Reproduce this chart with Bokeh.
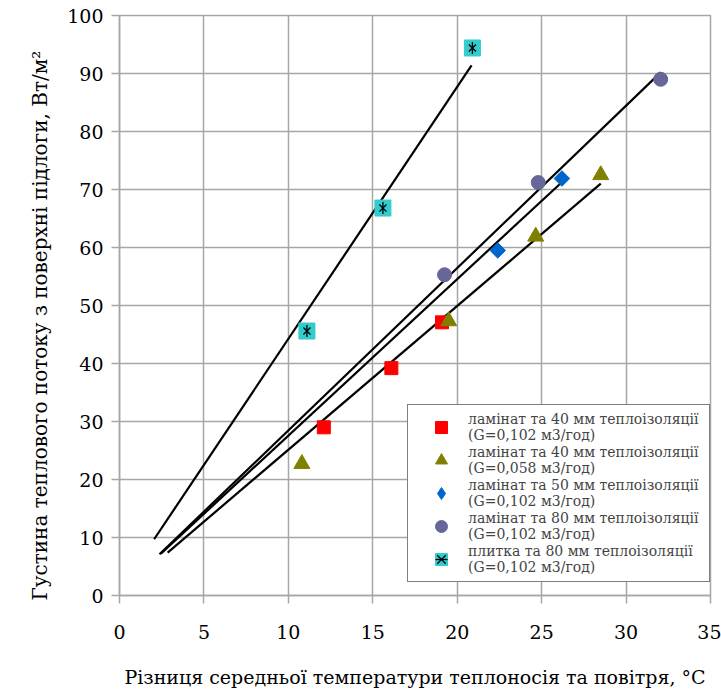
import math
from bokeh.plotting import figure
from bokeh.models import Legend, LegendItem, FixedTicker, Range1d, Title
from bokeh.embed import file_html
from bokeh.resources import INLINE

# ---- data ----
x_ticks = [0, 5, 10, 15, 20, 25, 30, 35]
y_ticks = [0, 10, 20, 30, 40, 50, 60, 70, 80, 90, 100]

lam40_x = [12.1, 16.1, 19.1]
lam40_y = [29.0, 39.2, 47.1]
lam40b_x = [10.8, 19.5, 24.65, 28.5]
lam40b_y = [22.7, 47.3, 61.9, 72.5]
lam50_x = [22.4, 26.2]
lam50_y = [59.5, 71.9]
lam80_x = [19.25, 24.8, 32.05]
lam80_y = [55.3, 71.2, 89.0]
tile_x = [11.1, 15.6, 20.9]
tile_y = [45.6, 66.8, 94.4]

trend_lam40b_x = [2.85, 28.5]
trend_lam40b_y = [7.4, 71.0]
trend_lam50_x = [2.45, 26.1]
trend_lam50_y = [7.2, 71.0]
trend_lam80_x = [2.37, 32.05]
trend_lam80_y = [7.1, 90.2]
trend_tile_x = [2.05, 20.85]
trend_tile_y = [9.7, 91.4]

labels = [
    "ламінат та 40 мм теплоізоляції\n(G=0,102 м3/год)",
    "ламінат та 40 мм теплоізоляції\n(G=0,058 м3/год)",
    "ламінат та 50 мм теплоізоляції\n(G=0,102 м3/год)",
    "ламінат та 80 мм теплоізоляції\n(G=0,102 м3/год)",
    "плитка та 80 мм теплоізоляції\n(G=0,102 м3/год)",
]
x_title = "Різниця середньої температури теплоносія та повітря, °C"
y_title = "Густина теплового потоку з поверхні підлоги, Вт/м²"

FONT = "DejaVu Serif"
GRID = "#a6a6a6"

p = figure(width=721, height=695, output_backend="svg", toolbar_location=None,
           x_range=Range1d(0, 35), y_range=Range1d(0, 100),
           min_border_left=119, min_border_right=11, min_border_top=15, min_border_bottom=100)
p.outline_line_color = GRID
p.outline_line_width = 1.5
p.background_fill_color = "white"

for ax in (p.xaxis[0], p.yaxis[0]):
    ax.axis_line_color = GRID
    ax.axis_line_width = 1.5
    ax.major_tick_line_color = GRID
    ax.major_tick_line_width = 1.5
    ax.major_tick_in = 0
    ax.major_tick_out = 8
    ax.minor_tick_line_color = None
    ax.major_label_text_font = FONT
    ax.major_label_text_font_size = "19px"
    ax.major_label_text_color = "black"
    ax.axis_label_text_font = FONT
    ax.axis_label_text_font_size = "19px"
    ax.axis_label_text_font_style = "normal"
    ax.axis_label_text_color = "black"

p.xaxis.ticker = FixedTicker(ticks=x_ticks)
p.yaxis.ticker = FixedTicker(ticks=y_ticks)
p.xaxis.axis_label = x_title
p.xaxis.major_label_standoff = 21
p.xaxis.axis_label_standoff = 24
p.yaxis.major_label_standoff = 8

ytitle = Title(text=y_title, align="left", offset=-5, standoff=26,
               text_font=FONT, text_font_size="20px", text_font_style="normal",
               text_color="black")
p.add_layout(ytitle, "left")

for g in (p.xgrid[0], p.ygrid[0]):
    g.grid_line_color = GRID
    g.grid_line_width = 1.5
p.xgrid.ticker = FixedTicker(ticks=x_ticks)
p.ygrid.ticker = FixedTicker(ticks=y_ticks)

for tx, ty in ((trend_lam40b_x, trend_lam40b_y), (trend_lam50_x, trend_lam50_y),
               (trend_lam80_x, trend_lam80_y), (trend_tile_x, trend_tile_y)):
    p.line(tx, ty, line_color="black", line_width=2.2)

r1 = p.scatter(lam40_x, lam40_y, marker="square", size=13, fill_color="#ff0000", line_color="#ff0000")
r2 = p.scatter(lam40b_x, lam40b_y, marker="triangle", size=16, fill_color="#808000", line_color="#808000")
p.scatter(lam50_x, lam50_y, marker="square", size=11, angle=math.pi / 4,
          fill_color="#0066cc", line_color="#0066cc")
# legend proxy for the diamond series (legend glyphs are never rotated)
r3 = p.scatter([float("nan")], [float("nan")], marker="diamond", size=12,
               fill_color="#0066cc", line_color="#0066cc")
r4 = p.scatter(lam80_x, lam80_y, marker="circle", size=14, fill_color="#666699", line_color="#666699")
r5a = p.scatter(tile_x, tile_y, marker="square", size=16, fill_color="#33cccc", line_color="#33cccc")
r5b = p.scatter(tile_x, tile_y, marker="x", size=10, line_color="black", line_width=1.3)
r5c = p.scatter(tile_x, tile_y, marker="dash", size=12, angle=math.pi / 2, line_color="black", line_width=1.3)

legend = Legend(items=[
    LegendItem(label=labels[0], renderers=[r1]),
    LegendItem(label=labels[1], renderers=[r2]),
    LegendItem(label=labels[2], renderers=[r3]),
    LegendItem(label=labels[3], renderers=[r4]),
    LegendItem(label=labels[4], renderers=[r5a, r5b, r5c]),
], location=(288, 13))
legend.border_line_color = "black"
legend.border_line_width = 1
legend.background_fill_color = "white"
legend.background_fill_alpha = 1
legend.label_text_font = FONT
legend.label_text_font_size = "14px"
legend.label_text_line_height = 1.3
legend.glyph_width = 54
legend.glyph_height = 30
legend.label_standoff = 0
legend.label_width = 235
legend.padding = 6
legend.spacing = 1
legend.margin = 0
p.add_layout(legend)

open("out.html", "w").write(file_html(p, INLINE))
